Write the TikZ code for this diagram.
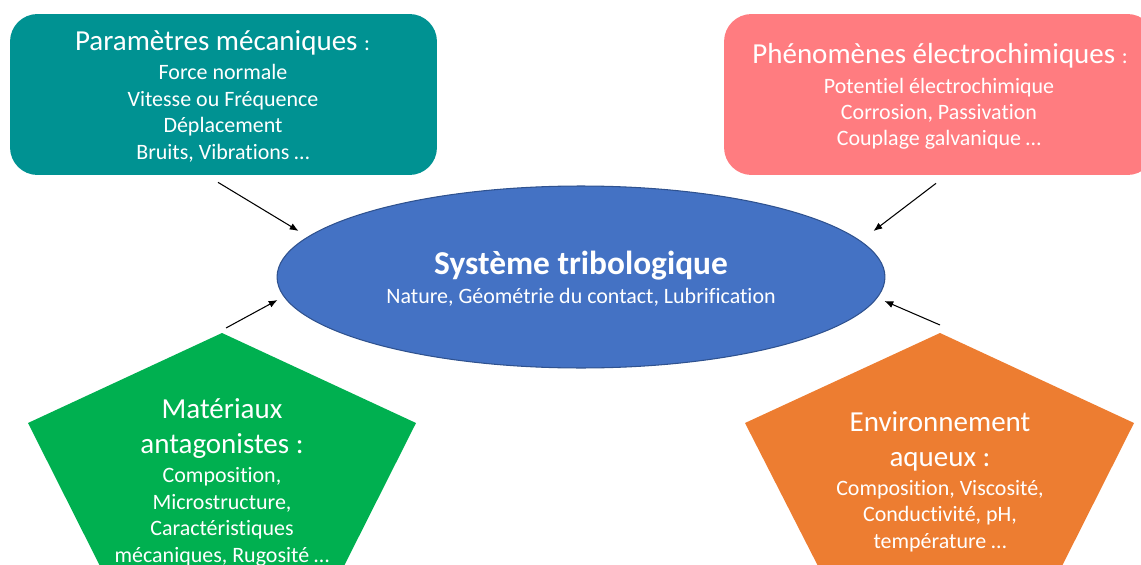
\documentclass[tikz,border=0pt]{standalone}
\usepackage{fontspec}
\setmainfont{Carlito}[Ligatures=NoCommon]
\usetikzlibrary{shapes.geometric,arrows.meta}

\definecolor{mecateal}{RGB}{0,146,146}
\definecolor{electropink}{RGB}{255,124,128}
\definecolor{sysblue}{RGB}{68,114,196}
\definecolor{sysedge}{RGB}{47,82,143}
\definecolor{matgreen}{RGB}{0,176,80}
\definecolor{envorange}{RGB}{237,125,49}

\tikzset{
  cadre/.style={rounded corners=0.55cm, minimum height=3.22cm, inner sep=0pt},
  titre/.style={text=white, font=\fontsize{16.5}{19.5}\selectfont, align=center, inner sep=0pt, anchor=base},
  corps/.style={text=white, font=\fontsize{12.5}{15}\selectfont, align=center, inner sep=0pt, anchor=base},
  fleche/.style={-{Latex[length=5pt,width=4pt]}, line width=0.6pt}
}

\begin{document}
\begin{tikzpicture}[x=0.02cm,y=-0.02cm]
        \useasboundingbox (0,0) rectangle (1141,564);
        \clip (0,0) rectangle (1141,564);
        % boites du haut
        \node[cadre, fill=mecateal, minimum width=8.54cm] (meca) at (223.5,94.5) {};
        \node[titre] (mecatitre) at (222.5,51) {Paramètres mécaniques {\fontsize{12.5}{15}\selectfont :}};
        \node[corps] (mecacorps) at (223,159) {Force normale\\Vitesse ou Fréquence\\Déplacement\\Bruits, Vibrations …};
        \node[cadre, fill=electropink, minimum width=8.62cm] (electro) at (939.5,94.5) {};
        \node[titre] (electrotitre) at (940,64) {Phénomènes électrochimiques {\fontsize{12.5}{15}\selectfont :}};
        \node[corps] (electrocorps) at (939,146) {Potentiel électrochimique\\Corrosion, Passivation\\Couplage galvanique …};
        % systeme
        \node[ellipse, draw=sysedge, line width=0.6pt, fill=sysblue, minimum width=12.16cm, minimum height=3.64cm, inner sep=0pt] (sys) at (581,277) {};
        \node[titre, font=\fontsize{19}{23}\selectfont\bfseries] (systitre) at (581,274) {Système tribologique};
        \node[corps] (syscorps) at (581,303) {Nature, Géométrie du contact, Lubrification};
        % pentagones
        \fill[matgreen] (28,423) -- (222,333) coordinate (mattop) -- (416,423) -- (342,570) -- (102,570) -- cycle;
        \node[titre] (mattitre) at (222,453) {Matériaux\\antagonistes :};
        \node[corps] (matcorps) at (222,562) {Composition,\\Microstructure,\\Caractéristiques\\mécaniques, Rugosité …};
        \fill[envorange] (745,423) -- (940,333) coordinate (envtop) -- (1134,423) -- (1060,570) -- (820,570) -- cycle;
        \node[titre] (envtitre) at (940,466) {Environnement\\aqueux :};
        \node[corps] (envcorps) at (940,548) {Composition, Viscosité,\\Conductivité, pH,\\température …};
        % fleches
        \draw[fleche] ([shift={(-5.5,7)}]meca.south) -- ([shift={(22,-46)}]sys.west);
        \draw[fleche] ([shift={(-3.5,8)}]electro.south) -- ([shift={(-12,-46)}]sys.east);
        \draw[fleche] ([shift={(4,-5)}]mattop) -- ([shift={(1,23)}]sys.west);
        \draw[fleche] ([shift={(0,-8)}]envtop) -- ([shift={(-1,24)}]sys.east);
    \end{tikzpicture}
\end{document}
